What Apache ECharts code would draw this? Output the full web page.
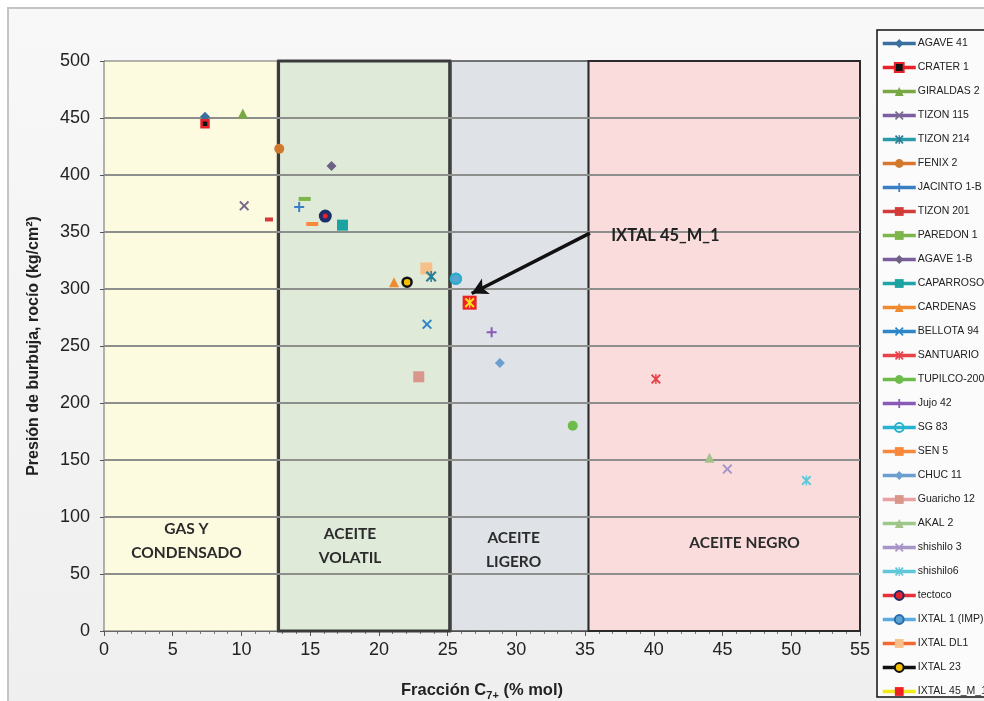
<!DOCTYPE html>
<html><head><meta charset="utf-8">
<script src="https://cdn.jsdelivr.net/npm/echarts@6/dist/echarts.min.js"></script>
<style>html,body{margin:0;padding:0;background:#fff;overflow:hidden}#c{width:984px;height:701px}</style>
</head><body><div id="c"></div>
<script>
// ---- data ----
const seriesNames = ['AGAVE 41','CRATER 1','GIRALDAS 2','TIZON 115','TIZON 214','FENIX 2','JACINTO 1-B','TIZON 201','PAREDON 1','AGAVE 1-B','CAPARROSO','CARDENAS','BELLOTA 94','SANTUARIO','TUPILCO-2001','Jujo 42','SG 83','SEN 5','CHUC 11','Guaricho 12','AKAL 2','shishilo 3','shishilo6','tectoco','IXTAL 1 (IMP)','IXTAL DL1','IXTAL 23','IXTAL 45_M_1'];
const fraccionC7 = [7.35,7.35,10.1,10.2,23.8,12.75,14.2,12.0,14.6,16.55,17.35,21.1,23.5,40.15,34.1,28.2,25.6,15.15,28.8,22.9,44.05,45.35,51.1,16.1,25.6,23.45,22.05,26.6];
const presion = [451,445,454,373,311,423,372,361,379,408,356,306,269,221,180,262,309,357,235,223,152,142,132,364,309,318,306,288];
const xTicks = {min:0, max:55, interval:5};
const yTicks = {min:0, max:500, interval:50};
const regionNames = ['GAS Y\nCONDENSADO','ACEITE\nVOLATIL','ACEITE\nLIGERO','ACEITE NEGRO'];
const regionX = [[0,12.6],[12.7,25.15],[25.25,35.25],[35.25,55]];
const regionTop = [500,502.5,500,500];
const regionLabelPos = [[6.0,79],[17.9,75],[29.8,71],[46.6,77]];
const annotationText = 'IXTAL 45_M_1';
const annotationPos = [36.9,347];
const arrowFrom = [35.35,349];
const arrowTo = [26.75,296];
const highlighted = 'IXTAL 45_M_1';

// ---- styles ----
const P_PLUS='path://M4,0H6V4H10V6H6V10H4V6H0V4H4Z';
const P_X='path://M0,1.4L1.4,0L5,3.6L8.6,0L10,1.4L6.4,5L10,8.6L8.6,10L5,6.4L1.4,10L0,8.6L3.6,5Z';
const P_STAR='path://M0,1.4L1.4,0L5,3.6L8.6,0L10,1.4L6.4,5L10,8.6L8.6,10L5,6.4L1.4,10L0,8.6L3.6,5ZM4.3,0H5.7V10H4.3Z';
const styles = [
 {c:'#3b6fa0', s:'diamond', z:9},
 {c:'#e8202a', s:'rect', z:10, fill:'#111', bw:2.5, b:'#e8202a', size:7},
 {c:'#77a844', s:'triangle', z:11},
 {c:'#7b5fa0', s:P_X, z:11, mc:'#7a6a8a'},
 {c:'#2a9aa8', s:P_STAR, z:11, mc:'#2a7f95', size:11},
 {c:'#d9772e', s:'circle', z:11, mc:'#d0782c'},
 {c:'#3a7fc4', s:P_PLUS, z:11},
 {c:'#d33a3a', s:'rect', z:11, size:[8,4]},
 {c:'#7db54a', s:'rect', z:11, size:[12,4]},
 {c:'#7a5e9a', s:'diamond', z:11, mc:'#6e6184'},
 {c:'#1fa5a8', s:'rect', z:11, mc:'#1aa3a0', size:11},
 {c:'#f08a30', s:'triangle', z:11},
 {c:'#2d86c8', s:P_X, z:11},
 {c:'#e8424a', s:P_STAR, z:11},
 {c:'#6dbb4a', s:'circle', z:11},
 {c:'#8a5ab8', s:P_PLUS, z:11},
 {c:'#28b4d0', s:'circle', z:12, fill:'rgba(0,0,0,0)', bw:2.5, b:'#2ab0cc'},
 {c:'#f8893c', s:'rect', z:11, size:[12,4]},
 {c:'#6d9ed0', s:'diamond', z:11},
 {c:'#e8a0a0', s:'rect', z:11, mc:'#d9968a', size:11},
 {c:'#9cc98a', s:'triangle', z:11, mc:'#a2c38a'},
 {c:'#a895c8', s:P_X, z:11},
 {c:'#5fc8d8', s:P_STAR, z:11},
 {c:'#e8303a', s:'circle', z:12, fill:'#e8202a', bw:4, b:'#1e2f6a', size:9},
 {c:'#5baae0', s:'circle', z:11, fill:'#5ba3d0', bw:1, b:'#2a6ab0', size:11},
 {c:'#f06a30', s:'rect', z:10, mc:'#f7c08a', size:12},
 {c:'#111111', s:'circle', z:12, fill:'#f5c000', bw:2.5, b:'#111', size:9},
 {c:'#f0ec1a', s:'rect', z:12, mc:'#ee2222', size:14}
];

const series = [];
// regions (background)
series.push({
  name:'regiones', type:'line', data:[], z:-1, silent:true,
  markArea:{silent:true, data: regionX.map((r,i)=>[
    {xAxis:r[0], yAxis:0, itemStyle:{
      color:['#fcfadf','#dfebd8','#dfe3e7','#fadcdc'][i],
      borderColor:['#6a6a6a','#3a3a3a','#4a4a4a','#2a2a2a'][i],
      borderWidth:[1,3,1.5,2][i]}},
    {xAxis:r[1], yAxis:regionTop[i]}
  ])}
});
// horizontal gridlines from y ticks (drawn above regions)
const gridVals = [];
for (let v = yTicks.min + yTicks.interval; v < yTicks.max; v += yTicks.interval) gridVals.push(v);
series.push({
  name:'rejilla', type:'line', data:[], z:0, silent:true,
  markLine:{silent:true, symbol:['none','none'], label:{show:false},
    lineStyle:{color:'#8c8f8c', width:1.8, type:'solid'},
    data: gridVals.map(v=>({yAxis:v}))}
});
seriesNames.forEach((n,i)=>{
  const st = styles[i];
  const item = {color: st.fill || st.mc || st.c};
  if (st.bw){ item.borderColor = st.b; item.borderWidth = st.bw; }
  series.push({
    name:n, type:'line', data:[[fraccionC7[i], presion[i]]],
    symbol: st.s, symbolSize: st.size || 10, z: st.z,
    color: st.c,
    lineStyle:{color:st.c, width:3.5},
    itemStyle:item, showSymbol:true
  });
});
// yellow asterisk overlay on the highlighted sample
const hi = seriesNames.indexOf(highlighted);
series.push({
  name:highlighted + ' *', type:'line', data:[[fraccionC7[hi], presion[hi]]],
  symbol:P_STAR, symbolSize:10, z:13, silent:true,
  itemStyle:{color:'#f7e31a'}, lineStyle:{width:0}
});
// annotations
series.push({
  name:'anotaciones', type:'line', data:[], z:20, silent:true,
  markPoint:{symbol:'circle', symbolSize:0, silent:true,
    data: regionNames.map((t,i)=>({coord:regionLabelPos[i], value:t,
      label:{show:true, formatter:t, fontFamily:'Lato', fontWeight:'bold', fontSize:15.5, color:'#2b2b2b', lineHeight:24, align:'center', verticalAlign:'middle', position:'inside'}}))
    .concat([{coord:annotationPos, label:{show:true, formatter:annotationText, fontFamily:'Lato', fontWeight:'bold', fontSize:16.5, color:'#222', align:'left', verticalAlign:'middle', position:'inside'}}])
  },
  markLine:{silent:true, symbol:['none','arrow'], symbolSize:[13,16], label:{show:false},
    lineStyle:{color:'#111', width:3.5, type:'solid'},
    data:[[{coord:arrowFrom},{coord:arrowTo}]]}
});

const chart = echarts.init(document.getElementById('c'), null, {renderer:'canvas'});
chart.setOption({
  animation:false,
  backgroundColor:'#ffffff',
  graphic:[{type:'rect', z:-10, shape:{x:8,y:8,width:990,height:700},
    style:{fill:new echarts.graphic.LinearGradient(0,0,0,1,[{offset:0,color:'#f8f8f8'},{offset:1,color:'#efefef'}]), stroke:'#c4c4c4', lineWidth:2}}],
  grid:{left:104, right:124, top:61, bottom:70, outerBoundsMode:'none', containLabel:false},
  xAxis:{type:'value', min:xTicks.min, max:xTicks.max, interval:xTicks.interval,
    axisLine:{show:true, onZero:false, lineStyle:{color:'#333', width:1.5}},
    axisTick:{show:true, length:5, lineStyle:{color:'#555'}},
    minorTick:{show:true, splitNumber:5, length:3, lineStyle:{color:'#777'}},
    splitLine:{show:false},
    axisLabel:{fontFamily:'Liberation Sans', fontSize:18, color:'#222', margin:10},
    name:'{a|Fracción C}{s|7+}{a| (% mol)}', nameLocation:'middle', nameGap:49,
    nameTextStyle:{rich:{a:{fontFamily:'Liberation Sans', fontWeight:'bold', fontSize:16.5, color:'#222'},
      s:{fontFamily:'Liberation Sans', fontWeight:'bold', fontSize:11, color:'#222', verticalAlign:'bottom', padding:[10,0,0,0]}}}
  },
  yAxis:{type:'value', min:yTicks.min, max:yTicks.max, interval:yTicks.interval,
    axisLine:{show:true, lineStyle:{color:'#555', width:1}},
    axisTick:{show:true, length:4, lineStyle:{color:'#555'}},
    splitLine:{show:false},
    axisLabel:{fontFamily:'Liberation Sans', fontSize:18, color:'#222', margin:14},
    name:'Presión de burbuja, rocío (kg/cm²)', nameLocation:'middle', nameGap:62,
    nameTextStyle:{fontFamily:'Liberation Sans', fontWeight:'bold', fontSize:16, color:'#222'}
  },
  legend:{orient:'vertical', left:877, top:30, data:seriesNames,
    itemWidth:33, itemHeight:11, itemGap:13, padding:[8,40,0,4],
    backgroundColor:'#fbfbfb', borderColor:'#111', borderWidth:1.5,
    lineStyle:{width:3.5},
    textStyle:{fontFamily:'Liberation Sans', fontSize:10.5, lineHeight:11, color:'#222', padding:[0,0,0,-3]},
    selectedMode:false},
  series:series
});
</script></body></html>
